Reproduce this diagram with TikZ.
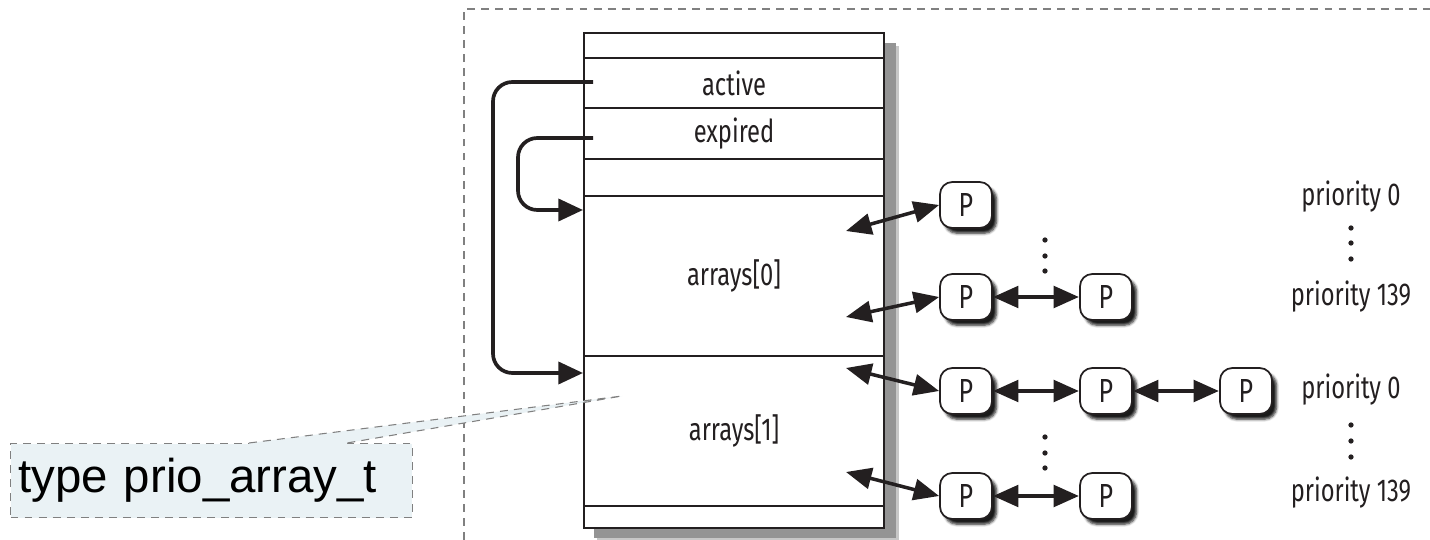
\documentclass[tikz,border=0pt]{standalone}
\usepackage{fontspec}
\setmainfont{Fira Sans}[FakeStretch=0.75]
\newfontfamily\notefont{Liberation Sans}
\usetikzlibrary{arrows.meta,positioning,shadows.blur}

\definecolor{figink}{HTML}{231F20}
\definecolor{framegray}{HTML}{808080}
\definecolor{notefill}{HTML}{EAF2F5}

\begin{document}
\begin{tikzpicture}[x=0.02cm,y=-0.02cm]
\tikzset{
  field/.style={rectangle,draw=figink,line width=1.2pt,fill=white,minimum width=6cm,inner sep=0pt,anchor=north west,text=figink,font=\fontsize{18}{21}\selectfont},
  pnode/.style={rectangle,rounded corners=7pt,draw=figink,line width=1pt,fill=white,minimum width=1.04cm,minimum height=0.92cm,inner sep=0pt,text=figink,font=\fontsize{19}{22}\selectfont,blur shadow={shadow xshift=2.6pt,shadow yshift=-3pt,shadow blur radius=1.5pt,shadow blur steps=5,shadow opacity=90}},
  prio/.style={text=figink,inner sep=1pt,font=\fontsize{18}{21}\selectfont},
  ptr/.style={draw=figink,line width=2.1pt,rounded corners=11pt,-{Triangle[length=14pt,width=12.5pt]}},
  link/.style={draw=figink,line width=2pt,{Triangle[length=14.5pt,width=12pt]}-{Triangle[length=14.5pt,width=12pt]}},
  chain/.style={link,line width=2.8pt},
  framedash/.style={draw=framegray,line width=0.6pt,dash pattern=on 4.5pt off 3.5pt},
  notebox/.style={rectangle,anchor=north west,fill=notefill,framedash,minimum width=8.04cm,minimum height=1.48cm,inner xsep=0.16cm,text width=7.72cm,align=left,font=\notefont\fontsize{27}{30}\selectfont}
}
\useasboundingbox (0,0) rectangle (1430,540);

% outer frame
\draw[framedash] (464,540) -- (464,9) -- (1430,9);

% struct with shadow
\fill[black!22] (597,46) rectangle (899,541);
\fill[black!42] (594,43) rectangle (896,538);
\node[field,minimum height=0.5cm] (topfld) at (583,32) {};
\node[field,minimum height=1cm] (active) at (583,57) {active};
\node[field,minimum height=1.02cm] (expired) at (583,107) {expired};
\node[field,minimum height=0.74cm] (gapfld) at (583,158) {};
\node[field,minimum height=3.2cm] (arr0) at (583,195) {arrays[0]};
\node[field,minimum height=3cm] (arr1) at (583,355) {arrays[1]};
\node[field,minimum height=0.44cm] (botfld) at (583,505) {};

\coordinate (act_out) at (593,82);
\coordinate (act_in) at (583,373);
\coordinate (exp_out) at (593,138);
\coordinate (exp_in) at (583,210);
\draw[ptr] (act_out) -- (493,82) |- (act_in);
\draw[ptr] (exp_out) -- (518,138) |- (exp_in);

% process lists
\node[pnode] (p00) at (966,205) {P};
\node[pnode] (p10) at (966,297) {P};
\node[pnode] (p11) at (1106,297) {P};
\node[pnode] (p20) at (966,391) {P};
\node[pnode] (p21) at (1106,391) {P};
\node[pnode] (p22) at (1246,391) {P};
\node[pnode] (p30) at (966,496) {P};
\node[pnode] (p31) at (1106,496) {P};

\coordinate (a0_hi) at (846,231);
\coordinate (a0_lo) at (846,317);
\coordinate (a1_hi) at (846,368);
\coordinate (a1_lo) at (846,472);
\draw[link] (a0_hi) -- (p00.west);
\draw[link] (a0_lo) -- (p10.west);
\draw[link] (a1_hi) -- (p20.west);
\draw[link] (a1_lo) -- (p30.west);
\draw[chain] (p10.east) -- (p11.west);
\draw[chain] (p20.east) -- (p21.west);
\draw[chain] (p21.east) -- (p22.west);
\draw[chain] (p30.east) -- (p31.west);

\node[prio] (pa0) at (1351,197) {priority 0};
\node[prio] (pa139) at (1351,297) {priority 139};
\node[prio] (pb0) at (1351,390) {priority 0};
\node[prio] (pb139) at (1351,493) {priority 139};
\foreach \y in {240,256,271,437,453,468}
  \fill[figink] (1045,\y) circle (1.5pt);
\foreach \y in {228,243,259,425,441,457}
  \fill[figink] (1351,\y) circle (1.5pt);

% callout
\node[notebox] (note) at (10,443) {type prio\_array\_t};
\coordinate (note_a) at (249,443);
\coordinate (note_b) at (347,443);
\coordinate (note_tip) at (622,396);
\fill[notefill] (note_a) -- (note_tip) -- (note_b) -- ([yshift=-1pt]note_b) -- ([yshift=-1pt]note_a) -- cycle;
\draw[framedash] (note_a) -- (note_tip) -- (note_b);
\end{tikzpicture}
\end{document}
